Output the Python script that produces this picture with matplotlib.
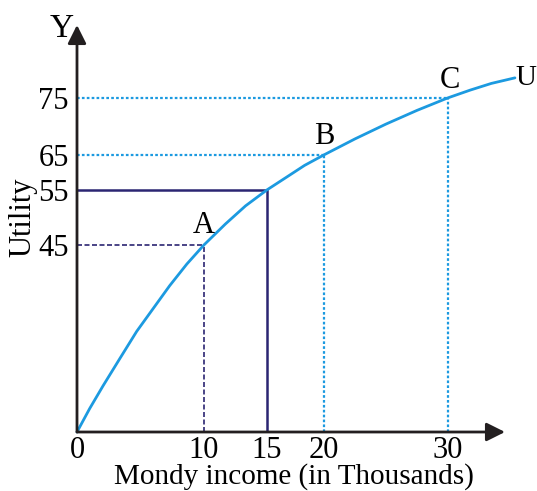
import numpy as np
import matplotlib
matplotlib.use("Agg")
import matplotlib.pyplot as plt

plt.rcParams['font.family'] = 'serif'
plt.rcParams['font.serif'] = ['Liberation Serif', 'DejaVu Serif']

# --- data (money income in thousands vs utility) ---
curve_x = [0, 1.0, 2.05, 3.4, 4.7, 6.0, 7.3, 8.65, 10, 11.7, 13.3, 15, 16.7, 18.3,
           20, 22.5, 25, 27.5, 30, 31.8, 33.5, 35.4]
curve_y = [0, 5.65, 11.1, 17.8, 24.2, 29.7, 35.2, 40.4, 45, 48.8, 52.1, 55, 58.6, 62.0,
           65, 67.8, 70.4, 72.8, 75, 76.75, 78.25, 79.5]

points = ['A', 'B', 'C']
point_x = [10, 20, 30]
point_y = [45, 65, 75]
mid_x, mid_y = 15, 55

x_ticks = [0, 10, 15, 20, 30]
y_ticks = [45, 55, 65, 75]

LIGHT = '#1C9AE0'
NAVY = '#2B2572'
INK = '#231f20'

# the diagram is not drawn to scale: piecewise-linear axes follow its spacing
X_KNOTS = ([0, 10, 15, 20, 30, 40], [0, 127, 190, 247, 371, 495])
Y_KNOTS = ([0, 45, 55, 65, 75, 100], [0, 187, 242, 277, 334, 445])


def make_scale(knots):
    v, p = knots
    return (lambda a: np.interp(a, v, p, left=-1e3, right=1e4),
            lambda a: np.interp(a, p, v, left=-1e3, right=1e4))


fig = plt.figure(figsize=(5.37, 4.91), dpi=100)
ax = fig.add_axes([77/537, 59/491, 428/537, 407/491])
ax.set_xscale('function', functions=make_scale(X_KNOTS))
ax.set_yscale('function', functions=make_scale(Y_KNOTS))
xmax, ymax = 34.6, 91.4
ax.set_xlim(0, xmax)
ax.set_ylim(0, ymax)
for s in ax.spines.values():
    s.set_visible(False)

# axes with arrow heads
arrow = dict(arrowstyle='-|>,head_length=0.8,head_width=0.4', color=INK, lw=2,
             shrinkA=0, shrinkB=0, mutation_scale=14)
ax.annotate('', xy=(xmax, 0), xytext=(0, 0), arrowprops=arrow, annotation_clip=False)
ax.annotate('', xy=(0, ymax), xytext=(0, 0), arrowprops=arrow, annotation_clip=False)

# guide lines
ax.plot([0, point_x[0]], [point_y[0]] * 2, color=NAVY, lw=1.2, ls=(0, (3, 1.5)))
ax.plot([point_x[0]] * 2, [0, point_y[0]], color=NAVY, lw=1.2, ls=(0, (3, 1.5)))
ax.plot([0, mid_x, mid_x], [mid_y, mid_y, 0], color=NAVY, lw=1.8)
for px, py in zip(point_x[1:], point_y[1:]):
    ax.plot([0, px], [py, py], color=LIGHT, lw=1.6, ls=(0, (1.2, 1.0)))
    ax.plot([px, px], [0, py], color=LIGHT, lw=1.6, ls=(0, (1.2, 1.0)))

# utility curve
ax.plot(curve_x, curve_y, color=LIGHT, lw=2, solid_capstyle='round',
        solid_joinstyle='round', clip_on=False)

fs = 22
offsets = [(0, 19), (0, 18), (2, 17)]
for name, px, py, off in zip(points, point_x, point_y, offsets):
    ax.annotate(name, (px, py), xytext=off, textcoords='offset pixels',
                fontsize=fs, ha='center', va='center')
ax.annotate('U', (curve_x[-1], curve_y[-1]), xytext=(1, 0), textcoords='offset pixels',
            fontsize=21, ha='left', va='center', annotation_clip=False)

ax.set_xticks(x_ticks)
ax.set_xticklabels([str(v) for v in x_ticks], fontsize=fs)
ax.set_yticks(y_ticks)
ax.set_yticklabels([str(v) for v in y_ticks], fontsize=fs)
ax.tick_params(length=0, pad=3)
ax.tick_params(axis='y', pad=6)
ax.minorticks_off()

fig.text(294/537, 1 - 477/491, 'Mondy income (in Thousands)', fontsize=21, ha='center', va='center')
fig.text(23/537, 1 - 217/491, 'Utility', fontsize=fs, rotation=90, ha='center', va='center')
fig.text(62/537, 1 - 29/491, 'Y', fontsize=24, ha='center', va='center')

fig.savefig('out.png', dpi=100)
